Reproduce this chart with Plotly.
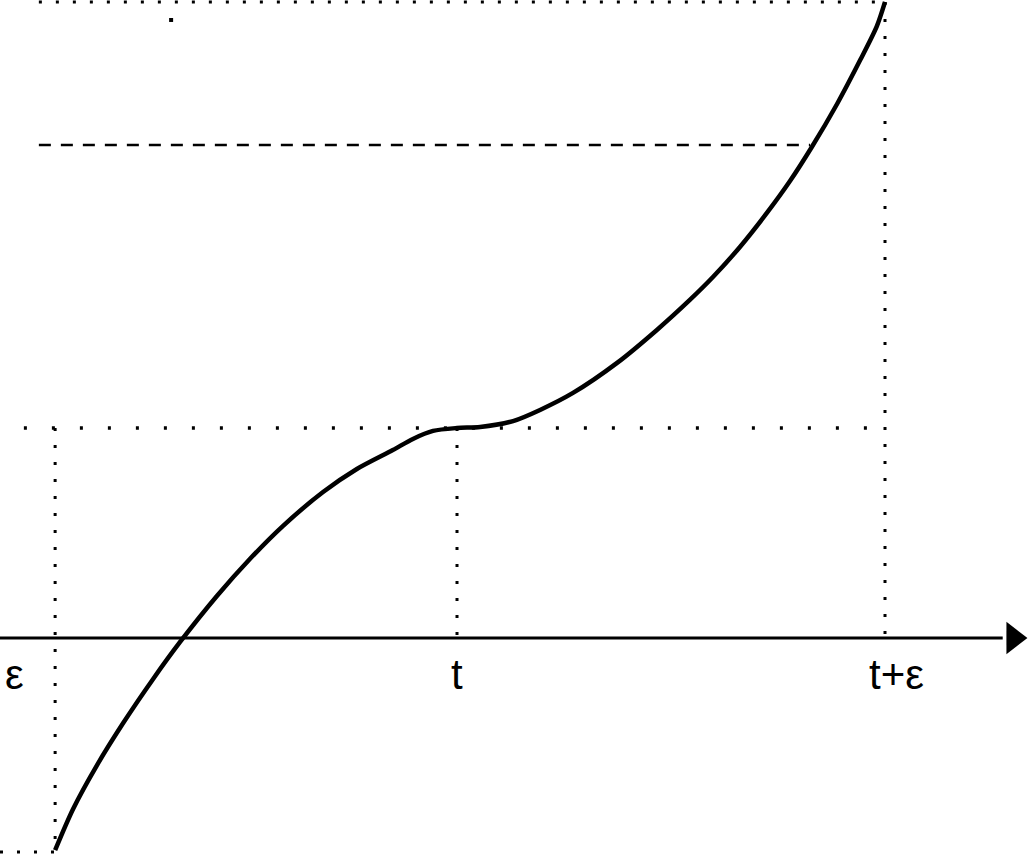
import plotly.graph_objects as go

# Curve f(x) around t (x measured in units of epsilon, t = 0; f(t) = 1)
curve_x = [-0.939, -0.897, -0.841, -0.780, -0.710, -0.647, -0.561, -0.484, -0.407, -0.313,
           -0.234, -0.150, -0.103, -0.056, 0.0, 0.054, 0.131, 0.194, 0.271, 0.374,
           0.467, 0.544, 0.598, 0.661, 0.724, 0.778, 0.829, 0.888, 0.942, 0.981, 1.0]
curve_y = [-1.010, -0.814, -0.605, -0.405, -0.195, -0.019, 0.200, 0.376, 0.533, 0.695,
           0.805, 0.895, 0.948, 0.986, 1.0, 1.005, 1.033, 1.086, 1.167, 1.310,
           1.467, 1.610, 1.719, 1.862, 2.024, 2.176, 2.338, 2.543, 2.752, 2.914, 3.029]

# Key positions
x_left = -0.939      # t - eps
x_t = 0.0            # t
x_right = 1.0        # t + eps
x_dash_end = 0.825
y_ft = 1.0           # f(t)
y_top = 3.029        # f(t + eps)
y_dash = 2.348
y_bottom = -1.019    # f(t - eps)
x_min, x_max = -1.0678, 1.3341
y_min, y_max = -1.0286, 3.0381

tick_labels = ["ε", "t", "t+ε"]
tick_x = [-1.035, 0.0, 1.028]
tick_y = -0.176

fig = go.Figure()

dot_short = "3px,14px"
dot_wide = "3px,25px"
dashed = "12px,10px"

def seg(xs, ys, dash, width=3):
    fig.add_trace(go.Scatter(x=xs, y=ys, mode="lines",
                             line=dict(color="black", width=width, dash=dash),
                             hoverinfo="skip", showlegend=False, cliponaxis=False))

# guide lines
seg([-0.977, x_right], [y_top, y_top], dot_short)
seg([-0.977, x_dash_end], [y_dash, y_dash], dashed, 2.5)
seg([-1.012, x_right], [y_ft, y_ft], dot_wide, 3.5)
seg([x_left, x_left], [y_ft, y_bottom], dot_short)
seg([x_t, x_t], [y_ft, 0], dot_short)
seg([x_right, x_right], [y_top, 0], dot_short)
seg([x_min, x_left], [y_bottom, y_bottom], dot_short)

# small stray dot
fig.add_trace(go.Scatter(x=[-0.668], y=[2.943], mode="markers",
                         marker=dict(color="black", size=4, symbol="square"),
                         hoverinfo="skip", showlegend=False))

# x axis with arrow
seg([x_min, 1.275], [0, 0], "solid", 3)
fig.add_trace(go.Scatter(x=[1.300], y=[0], mode="markers", cliponaxis=False,
                         marker=dict(color="black", size=28, symbol="triangle-right",
                                     line=dict(width=0)),
                         hoverinfo="skip", showlegend=False))

# curve
fig.add_trace(go.Scatter(x=curve_x, y=curve_y, mode="lines", cliponaxis=False,
                         line=dict(color="black", width=4.5, shape="spline", smoothing=0.8),
                         hoverinfo="skip", showlegend=False))

for lab, xv in zip(tick_labels, tick_x):
    fig.add_annotation(x=xv, y=tick_y, text=lab, showarrow=False,
                       font=dict(family="Liberation Sans, Arial", size=42, color="black"),
                       xanchor="center", yanchor="middle")

fig.update_layout(
    width=1028, height=854,
    margin=dict(l=0, r=0, t=0, b=0),
    paper_bgcolor="white", plot_bgcolor="white",
    xaxis=dict(range=[x_min, x_max], visible=False, fixedrange=True),
    yaxis=dict(range=[y_min, y_max], visible=False, fixedrange=True),
    showlegend=False,
)

fig.write_html("out.html", config={"displayModeBar": False},
               post_script="document.body.style.margin='0';document.body.style.overflow='hidden';")
